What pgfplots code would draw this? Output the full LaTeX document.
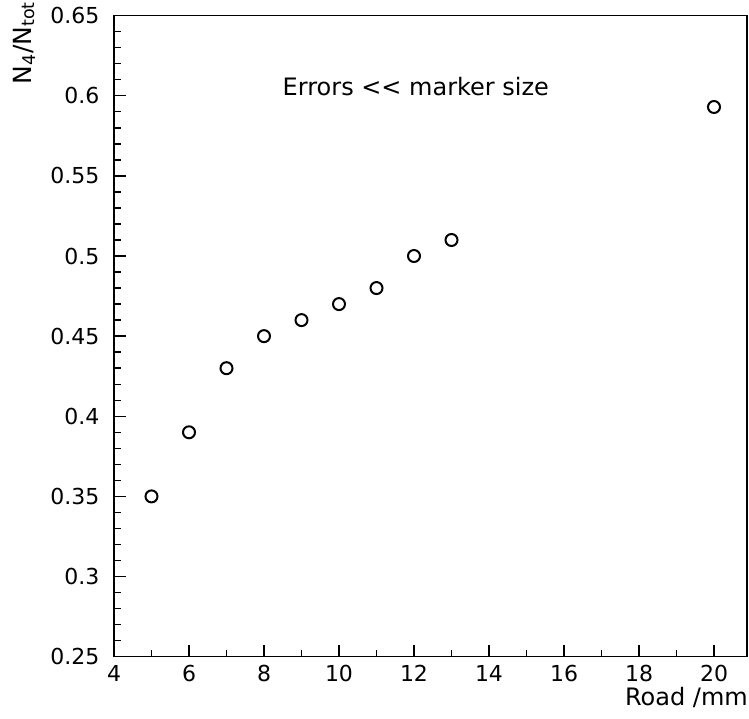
\documentclass[border=0pt]{standalone}
\usepackage{fontspec}
\setmainfont{DejaVu Sans}
\usepackage{pgfplots}
\pgfplotsset{compat=1.18}
\begin{document}
\fontsize{22}{26}\selectfont
\begin{tikzpicture}
\begin{axis}[
  scale only axis,
  width=633pt, height=641pt,
  xmin=4, xmax=20.88, ymin=0.25, ymax=0.65,
  xtick={4,6,...,20}, minor x tick num=1,
  ytick={0.25,0.3,0.35,0.4,0.45,0.5,0.55,0.6,0.65}, minor y tick num=4,
  tick align=inside, tick pos=left,
  major tick length=12pt, minor tick length=7pt,
  axis line style={line width=1.6pt},
  every tick/.style={line width=1.4pt, black},
  /pgf/number format/assume math mode=true,
  yticklabel style={xshift=-7pt},
  yticklabel={\pgfmathprintnumber[fixed,precision=2]{\tick}},
  xticklabel style={yshift=-1pt},
  clip=false,
]
\addplot[only marks, mark=o, mark size=6pt, line width=2pt, black]
  coordinates {(5,0.35) (6,0.39) (7,0.43) (8,0.45) (9,0.46) (10,0.47) (11,0.48) (12,0.50) (13,0.51) (20,0.593)};
\node[anchor=center, font=\fontsize{24}{28}\selectfont] at (axis cs:12.05,0.606) {Errors {<}{<} marker size};
\node[anchor=north east, inner sep=0pt, font=\fontsize{24}{28}\selectfont] at ([yshift=-30pt,xshift=1pt]axis description cs:1,0) {Road /mm};
\node[rotate=90, anchor=east, inner sep=0pt, font=\fontsize{25}{28}\selectfont] at ([xshift=-90pt,yshift=14pt]axis description cs:0,1) {N\textsubscript{4}/N\textsubscript{tot}};
\end{axis}
\draw[draw=none] ([xshift=-114pt,yshift=-62pt]current axis.south west) rectangle ([xshift=2pt,yshift=15pt]current axis.north east);
\end{tikzpicture}
\end{document}
